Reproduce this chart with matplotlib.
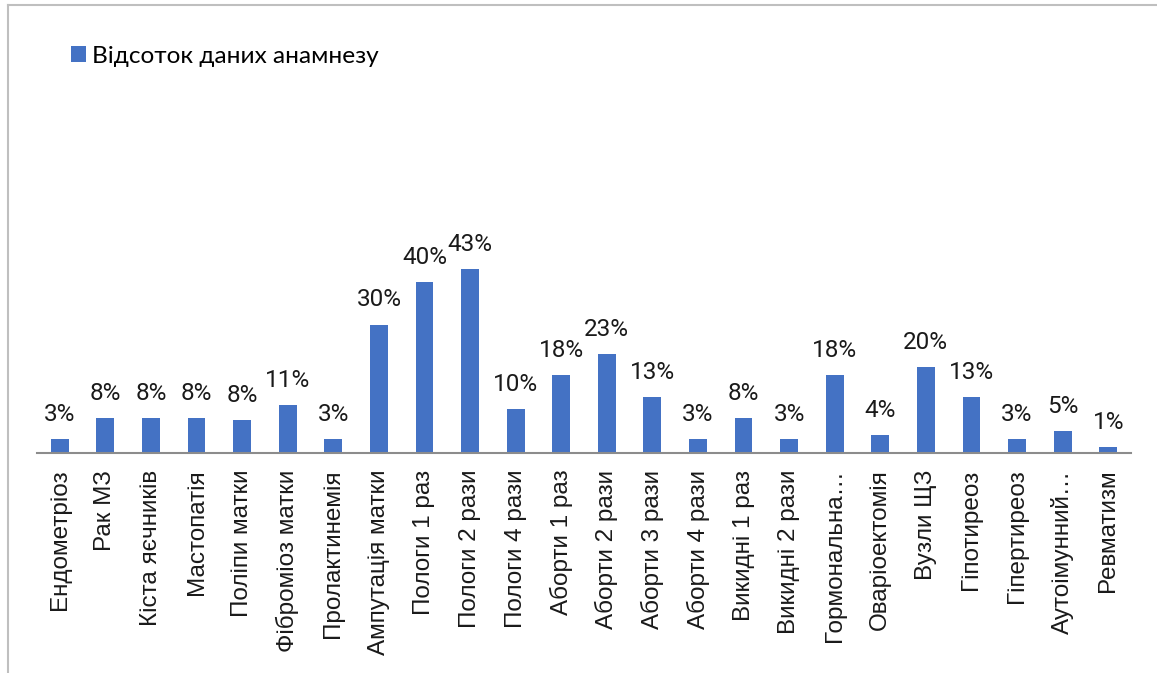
import matplotlib
matplotlib.use("Agg")
import matplotlib.pyplot as plt
from matplotlib.lines import Line2D

categories = [
    "Ендометріоз", "Рак МЗ", "Кіста яєчників", "Мастопатія", "Поліпи матки",
    "Фіброміоз матки", "Пролактинемія", "Ампутація матки", "Пологи 1 раз",
    "Пологи 2 рази", "Пологи 4 рази", "Аборти 1 раз", "Аборти 2 рази",
    "Аборти 3 рази", "Аборти 4 рази", "Викидні 1 раз", "Викидні 2 рази",
    "Гормональна…", "Оваріоектомія", "Вузли ЩЗ", "Гіпотиреоз",
    "Гіпертиреоз", "Аутоімунний…", "Ревматизм",
]
shares = [
    0.033, 0.082, 0.082, 0.082, 0.077,
    0.112, 0.033, 0.300, 0.400,
    0.430, 0.103, 0.182, 0.231,
    0.131, 0.033, 0.082, 0.033,
    0.182, 0.042, 0.201, 0.131,
    0.033, 0.051, 0.014,
]
series_name = "Відсоток даних анамнезу"

W, H = 1157, 673
fig = plt.figure(figsize=(W / 100, H / 100), dpi=100)

# chart-area frame
fig.add_artist(Line2D([8 / W, 8 / W], [0, 1 - 5 / H], transform=fig.transFigure,
                      color="#bfbfbf", lw=1.5))
fig.add_artist(Line2D([8 / W, 1], [1 - 5 / H, 1 - 5 / H], transform=fig.transFigure,
                      color="#bfbfbf", lw=1.5))

left, right = 37 / W, 1131 / W
bottom = 1 - 453 / H
ymax = 0.50
height = (ymax * 428) / H
ax = fig.add_axes([left, bottom, right - left, height])

x = list(range(len(categories)))
bars = ax.bar(x, shares, width=0.39, color="#4472C4", label=series_name, zorder=2)

for xi, v in zip(x, shares):
    ax.annotate(f"{v:.0%}", (xi, v), xytext=(0, 9.5), textcoords="offset points",
                ha="center", va="bottom", fontsize=17.5, family="Roboto",
                color="#1a1a1a", annotation_clip=False)

ax.set_xlim(-0.5, len(categories) - 0.5)
ax.set_ylim(0, ymax)
ax.set_xticks(x)
ax.set_xticklabels(categories, rotation=90, fontsize=17.5, family="Liberation Sans",
                   color="#1a1a1a")
ax.tick_params(axis="x", length=0, pad=12)
ax.set_yticks([])
for side in ("top", "right", "left"):
    ax.spines[side].set_visible(False)
ax.spines["bottom"].set_color("#8c8c8c")
ax.spines["bottom"].set_linewidth(1.5)
ax.spines["bottom"].set_zorder(3)

fig.legend(handles=[bars], labels=[series_name], loc="upper left",
           bbox_to_anchor=(71 / W, 1 - 46 / H), frameon=False,
           prop={"family": "Lato", "size": 17.6}, handlelength=0.62, handleheight=0.62,
           handletextpad=0.25, borderaxespad=0, borderpad=0)

fig.savefig("out.png", dpi=100, facecolor="white")
